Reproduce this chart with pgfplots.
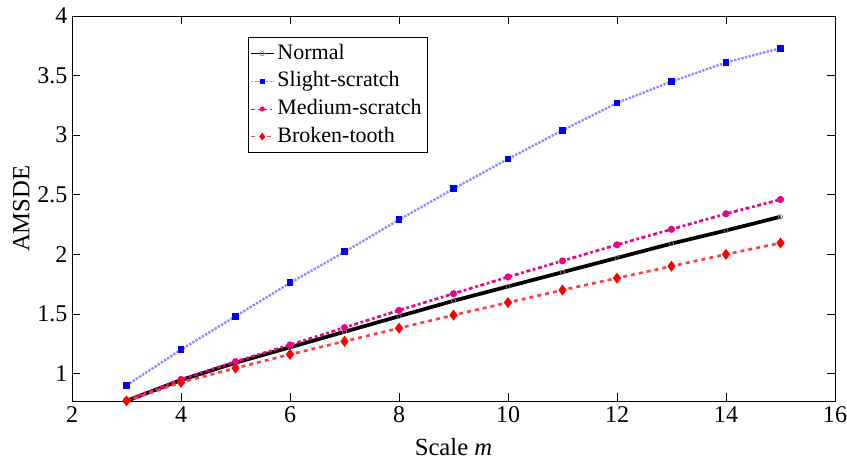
\documentclass[border=0pt]{standalone}
\usepackage{pgfplots}
\pgfplotsset{compat=1.18}
\usepackage{fontspec}
\setmainfont{Liberation Serif}
\begin{document}
\begin{tikzpicture}[font=\fontsize{18}{21}\selectfont]
\useasboundingbox (-54pt,-43.5pt) rectangle (581pt,301pt);
\begin{axis}[
  at={(0,0)}, anchor=south west,
  scale only axis,
  width=572pt, height=289pt,
  xmin=2, xmax=16, ymin=0.765, ymax=4,
  xtick={2,4,...,16},
  ytick={1,1.5,2,2.5,3,3.5,4},
  tick align=inside,
  major tick length=6pt,
  axis line style={line width=0.6pt},
  tick style={line width=0.6pt, black},
  /pgf/number format/assume math mode=true,
  xlabel={Scale \textit{m}},
  ylabel={AMSDE},
  xlabel style={at={(axis description cs:0.5,0)}, anchor=base, yshift=-40.5pt, font=\fontsize{18.5}{21}\selectfont},
  ylabel style={at={(axis description cs:-0.0665,0.5)}, anchor=center, font=\fontsize{18.5}{21}\selectfont},
  legend style={at={(0.2308,0.9446)}, anchor=north west, draw=black, line width=0.6pt,
    font=\fontsize{16.5}{20}\selectfont, inner sep=1.5pt, row sep=0pt,
    nodes={inner sep=2.5pt, text height=12pt, text depth=3.75pt}},
  legend cell align=left,
  legend image post style={line width=0.6pt},
]
\addplot[black, line width=2.8pt, mark=o, mark size=1.6pt, mark options={solid, line width=0.5pt, draw=gray}] coordinates {
(3,0.770)(4,0.945)(5,1.090)(6,1.220)(7,1.350)(8,1.480)(9,1.610)(10,1.730)(11,1.850)(12,1.970)(13,2.090)(14,2.200)(15,2.315)};
\addlegendentry{Normal}
\addplot[blue!45, line width=1.8pt, densely dotted, mark=square*, mark size=1.7pt, mark options={solid, fill=blue, draw=blue}] coordinates {
(3,0.900)(4,1.200)(5,1.480)(6,1.760)(7,2.020)(8,2.290)(9,2.550)(10,2.800)(11,3.040)(12,3.270)(13,3.450)(14,3.610)(15,3.730)};
\addlegendentry{Slight-scratch}
\addplot[magenta, line width=2pt, dash dot, mark=*, mark size=1.6pt, mark options={solid, fill=red!70!magenta, draw=magenta}] coordinates {
(3,0.775)(4,0.950)(5,1.100)(6,1.240)(7,1.385)(8,1.530)(9,1.670)(10,1.810)(11,1.945)(12,2.080)(13,2.210)(14,2.340)(15,2.460)};
\addlegendentry{Medium-scratch}
\addplot[red!75, line width=2pt, dashed, mark=diamond*, mark size=2.5pt, mark options={solid, red}] coordinates {
(3,0.770)(4,0.925)(5,1.045)(6,1.160)(7,1.270)(8,1.380)(9,1.490)(10,1.595)(11,1.700)(12,1.800)(13,1.900)(14,2.000)(15,2.095)};
\addlegendentry{Broken-tooth}
\end{axis}
\end{tikzpicture}
\end{document}
